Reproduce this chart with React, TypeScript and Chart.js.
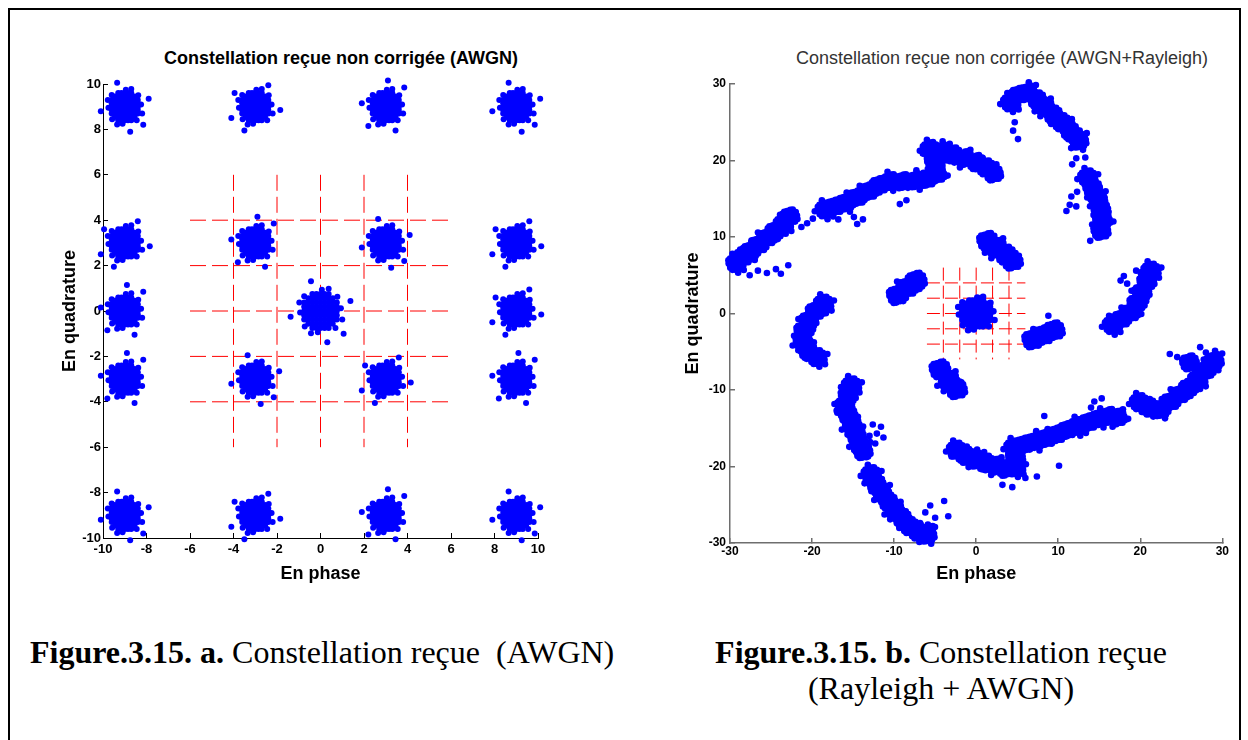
import React, { useEffect, useRef } from "react";
import { Chart, registerables } from "chart.js";

Chart.register(...registerables);

// ---------------- Figure a : AWGN ----------------
const awgnRange: [number, number] = [-10, 10];
const awgnStep = 2;
const awgnCenters: [number, number][] = [
  [-9, 9], [-3, 9], [3, 9], [9, 9],
  [-9, 3], [-3, 3], [3, 3], [9, 3],
  [-9, 0], [0, 0], [9, 0],
  [-9, -3], [-3, -3], [3, -3], [9, -3],
  [-9, -9], [-3, -9], [3, -9], [9, -9],
];
const awgnSpread: number[] = [
  1.0, 1.0, 1.0, 1.0,
  1.0, 1.0, 1.0, 1.0,
  1.0, 1.25, 1.0,
  1.0, 1.0, 1.0, 1.0,
  1.0, 1.0, 1.0, 1.0,
];

// red dashed decision grid (both figures)
const decisionLevels = [-4, -2, 0, 2, 4];
const decisionExtent: [number, number] = [-6, 6];

// ---------------- Figure b : AWGN + Rayleigh ----------------
const rayRange: [number, number] = [-30, 30];
const rayStep = 10;
const rayCenterBlob: [number, number] = [0, 0];
const rayCenterSpread = 2.8;
const innerN: [number, number][] = [[1.4, 9.5], [2.5, 8.6], [3.6, 7.7], [4.4, 6.9]];
const innerW: [number, number][] = [[-9.6, 2.4], [-8.4, 3.4], [-7.3, 4.3]];
const innerS: [number, number][] = [[-4.4, -7.3], [-3.3, -8.8], [-2.4, -9.9]];
const innerE: [number, number][] = [[6.9, -3.4], [8.2, -2.8], [9.5, -2.2]];
const innerSpread = 1.3;

const arcA: [number, number][] = [[-29.3, 6.6], [-28.4, 7.4], [-27.5, 8.2], [-26.5, 9.0], [-25.5, 9.9], [-24.5, 10.8], [-23.5, 11.7], [-22.7, 12.7]];
const arcB: [number, number][] = [[-18.4, 13.6], [-17.2, 14.0], [-15.9, 14.5], [-14.5, 15.2], [-13.1, 16.0], [-11.8, 16.8], [-10.4, 17.3], [-8.9, 17.3], [-7.4, 17.4], [-6.0, 17.6], [-4.8, 18.2]];
const arcC: [number, number][] = [[-5.6, 21.5], [-5.1, 19.9], [-4.2, 21.2], [-2.8, 20.8], [-1.4, 20.3], [0.0, 19.8], [1.2, 19.1], [2.1, 18.3]];
const arcD: [number, number][] = [[4.2, 27.6], [5.2, 28.6], [6.3, 28.9], [7.4, 28.0], [8.4, 27.0], [9.4, 26.0], [10.4, 25.0], [11.4, 23.9], [12.5, 22.6]];
const arcE: [number, number][] = [[13.6, 17.8], [14.2, 16.4], [14.8, 15.0], [15.2, 13.6], [15.4, 12.2], [15.2, 10.8]];
const arcF: [number, number][] = [[21.3, 5.6], [20.8, 4.2], [20.2, 2.8], [19.6, 1.4], [18.8, 0.1], [17.7, -0.7], [16.6, -1.5]];
const arcG: [number, number][] = [[19.9, -11.6], [21.2, -12.3], [22.5, -12.5], [23.7, -11.5], [24.8, -10.6], [25.9, -9.7], [27.0, -8.6], [28.0, -7.4], [29.0, -6.2], [26.0, -6.4]];
const arcH: [number, number][] = [[4.6, -17.5], [5.9, -17.1], [7.2, -16.7], [8.5, -16.3], [9.8, -15.8], [11.1, -15.2], [12.4, -14.7], [13.7, -14.2], [15.0, -13.7], [16.2, -13.4], [17.2, -13.6]];
const arcI: [number, number][] = [[-2.4, -17.8], [-1.2, -18.6], [0.0, -19.1], [1.2, -19.5], [2.4, -19.9], [3.6, -20.3], [4.8, -20.1], [4.8, -18.8]];
const arcJ: [number, number][] = [[-15.2, -9.4], [-15.6, -10.7], [-16.0, -12.0], [-15.6, -13.3], [-15.1, -14.6], [-14.6, -15.9], [-14.2, -17.2], [-13.8, -18.0]];
const arcK: [number, number][] = [[-12.8, -21.0], [-12.2, -22.2], [-11.5, -23.4], [-10.7, -24.6], [-9.9, -25.7], [-9.0, -26.8], [-8.1, -27.8], [-7.1, -28.5], [-6.0, -28.9]];
const arcL: [number, number][] = [[-18.6, 1.3], [-19.6, 0.3], [-20.4, -0.9], [-21.0, -2.2], [-21.1, -3.6], [-20.5, -4.9], [-19.4, -5.7]];
const arcSpread = 1.15;

const rayStray: [number, number][] = [
  [-27.6, 5.0], [-26.6, 5.6], [-25.5, 5.3], [-24.4, 5.8], [-23.8, 5.2], [-22.9, 6.3], [-21.3, 11.3], [-20.6, 11.8], [-19.9, 12.4],
  [-14.5, 11.7], [-13.8, 12.3], [-14.9, 12.6], [-9.3, 14.3], [-8.5, 14.8], [-16.8, 12.3], [-6.5, 20.9],
  [4.5, 23.9], [5.1, 22.8], [4.7, 25.0], [11.7, 19.5], [12.2, 20.3], [13.3, 20.4],
  [11.0, 13.4], [11.4, 14.2], [11.6, 15.3], [12.3, 15.9], [13.9, 9.5], [12.2, 14.0],
  [17.6, 4.3], [18.4, 3.9], [18.0, 4.9], [16.3, -0.4], [19.5, 5.6], [21.9, 4.9],
  [24.5, -5.7], [27.3, -4.4], [23.6, -5.3], [25.3, -6.2], [28.0, -5.1], [20.2, -10.9], [22.0, -13.4],
  [14.4, -11.5], [15.3, -11.1], [14.0, -12.3], [8.3, -13.4], [10.1, -19.9], [7.4, -21.3],
  [-2.4, -17.0], [-3.0, -18.7], [4.4, -22.7], [3.2, -22.4], [6.0, -21.5],
  [-12.1, -15.7], [-11.3, -16.2], [-12.6, -14.5], [-12.3, -17.0], [-11.6, -14.8], [-13.0, -16.0], [-13.4, -18.8], [-17.0, -12.7],
  [-5.6, -25.1], [-3.9, -24.5], [-3.4, -26.5], [-5.0, -26.7], [-6.2, -26.0], [-5.3, -27.8], [-13.6, -22.2],
  [8.8, -0.3], [6.0, -3.1],
];

// ---------------- noise-cloud shape (unit offsets, read from the blobs) ----------------
const blobCoreRows: [number, number[]][] = [
  [0.6, [-0.3, -0.15, 0, 0.15, 0.3]],
  [0.45, [-0.45, -0.3, -0.15, 0, 0.15, 0.3, 0.45]],
  [0.3, [-0.6, -0.45, -0.3, -0.15, 0, 0.15, 0.3, 0.45, 0.6]],
  [0.15, [-0.6, -0.45, -0.3, -0.15, 0, 0.15, 0.3, 0.45, 0.6]],
  [0, [-0.6, -0.45, -0.3, -0.15, 0, 0.15, 0.3, 0.45, 0.6]],
  [-0.15, [-0.6, -0.45, -0.3, -0.15, 0, 0.15, 0.3, 0.45, 0.6]],
  [-0.3, [-0.6, -0.45, -0.3, -0.15, 0, 0.15, 0.3, 0.45, 0.6]],
  [-0.45, [-0.45, -0.3, -0.15, 0, 0.15, 0.3, 0.45]],
  [-0.6, [-0.3, -0.15, 0, 0.15, 0.3]],
];
const blobEdge: [number, number][] = [
  [0.75, 0.1], [-0.75, -0.05], [0.05, 0.75], [-0.1, -0.75], [0.62, 0.5], [-0.6, 0.52],
  [0.55, -0.6], [-0.58, -0.55], [0.8, -0.3], [-0.78, 0.3], [0.3, 0.78], [-0.35, -0.78],
];
const blobStrays: [number, number][][] = [
  [[1.1, 0.35], [-1.1, -0.2], [0.25, -1.1], [-0.35, 1.05], [0.85, -0.8]],
  [[1.15, -0.15], [-0.95, 0.6], [0.6, 0.95], [-0.5, -1.05], [-1.1, -0.5]],
  [[0.85, 0.85], [-1.1, 0.15], [0.1, 1.15], [0.45, -1.05], [-0.8, -0.85]],
];

type P = { x: number; y: number };

function cloud(cx: number, cy: number, s: number, stray: number): P[] {
  const out: P[] = [];
  for (const [oy, xs] of blobCoreRows) for (const ox of xs) out.push({ x: cx + ox * s, y: cy + oy * s });
  for (const [ox, oy] of blobEdge) out.push({ x: cx + ox * s, y: cy + oy * s });
  if (stray >= 0) for (const [ox, oy] of blobStrays[stray % 3]) out.push({ x: cx + ox * s, y: cy + oy * s });
  return out;
}

function awgnPoints(): P[] {
  const pts: P[] = [];
  awgnCenters.forEach(([x, y], i) => pts.push(...cloud(x, y, awgnSpread[i], i % 3)));
  return pts;
}

function rayPoints(): P[] {
  const pts: P[] = [];
  pts.push(...cloud(rayCenterBlob[0], rayCenterBlob[1], rayCenterSpread, -1));
  [innerN, innerW, innerS, innerE].forEach((blob) =>
    blob.forEach(([x, y], i) => pts.push(...cloud(x, y, innerSpread, i === 1 ? i : -1)))
  );
  [arcA, arcB, arcC, arcD, arcE, arcF, arcG, arcH, arcI, arcJ, arcK, arcL].forEach((arc) =>
    arc.forEach(([x, y], i) => pts.push(...cloud(x, y, arcSpread, i % 2 === 0 ? i % 3 : -1)))
  );
  rayStray.forEach(([x, y]) => pts.push({ x, y }));
  return pts;
}

function decisionGrid(dash: number[]) {
  const sets: any[] = [];
  const [a, b] = decisionExtent;
  for (const v of decisionLevels) {
    sets.push({ data: [{ x: a, y: v }, { x: b, y: v }] });
    sets.push({ data: [{ x: v, y: b }, { x: v, y: a }] });
  }
  return sets.map((d) => ({
    ...d,
    showLine: true,
    borderColor: "#ff0000",
    borderWidth: 1,
    borderDash: dash,
    pointRadius: 0,
    fill: false,
    clip: false,
  }));
}

const SANS = "'Liberation Sans', Arial, Helvetica, sans-serif";
const SERIF = "'Liberation Serif', 'Times New Roman', Times, serif";

type PanelProps = {
  left: number; top: number; width: number; height: number;
  padTop: number; padRight: number; yWidth: number; xHeight: number;
  range: [number, number]; step: number; points: P[]; dash: number[];
  axisColor: string; axisWidth: number; tickPadX: number; tickPadY: number;
  tickSize: number; yTitlePad: number; radius: number;
};

function Panel(p: PanelProps) {
  const ref = useRef<HTMLCanvasElement | null>(null);
  useEffect(() => {
    if (!ref.current) return;
    const tickFont = { family: SANS, size: p.tickSize, weight: "bold" as const };
    const titleFont = { family: SANS, size: 18, weight: "bold" as const };
    const mkAxis = (horizontal: boolean) => ({
      type: "linear" as const,
      position: horizontal ? ("bottom" as const) : ("left" as const),
      min: p.range[0],
      max: p.range[1],
      ticks: {
        stepSize: p.step,
        autoSkip: false,
        maxRotation: 0,
        color: "#000",
        font: tickFont,
        padding: horizontal ? p.tickPadX : p.tickPadY,
      },
      grid: { drawOnChartArea: false, drawTicks: true, tickLength: -5, color: p.axisColor, lineWidth: p.axisWidth },
      border: { display: true, color: p.axisColor, width: p.axisWidth },
      title: {
        display: true,
        text: horizontal ? "En phase" : "En quadrature",
        color: "#000",
        font: titleFont,
        padding: horizontal ? { top: 0, bottom: 15 } : { top: p.yTitlePad, bottom: 0 },
      },
      afterFit: (s: any) => {
        if (horizontal) s.height = p.xHeight;
        else s.width = p.yWidth;
      },
    });
    const chart = new Chart(ref.current, {
      type: "scatter",
      data: {
        datasets: [
          {
            data: p.points,
            pointRadius: p.radius,
            pointStyle: "circle",
            pointBackgroundColor: "#0000ff",
            backgroundColor: "#0000ff",
            pointBorderWidth: 0,
            borderWidth: 0,
            showLine: false,
            clip: false,
          } as any,
          ...decisionGrid(p.dash),
        ],
      },
      options: {
        responsive: false,
        maintainAspectRatio: false,
        animation: false,
        devicePixelRatio: 1,
        events: [],
        layout: { padding: { top: p.padTop, right: p.padRight, left: 0, bottom: 0 } },
        plugins: { legend: { display: false }, tooltip: { enabled: false }, title: { display: false } },
        scales: { x: mkAxis(true), y: mkAxis(false) } as any,
      },
    });
    return () => chart.destroy();
  }, []);
  return (
    <canvas
      ref={ref}
      width={p.width}
      height={p.height}
      style={{ position: "absolute", left: p.left, top: p.top, width: p.width, height: p.height }}
    />
  );
}

export default function App() {
  const aPts = awgnPoints();
  const bPts = rayPoints();
  return (
    <div style={{ position: "absolute", left: 0, top: 0, width: 1248, height: 740, overflow: "hidden", background: "#fff" }}>
      <div
        style={{
          position: "absolute", left: 8, top: 8, width: 1233, height: 760,
          border: "2px solid #000", boxSizing: "border-box",
        }}
      />
      <div
        style={{
          position: "absolute", left: 41, top: 47, width: 600, textAlign: "center",
          fontFamily: SANS, fontWeight: "bold", fontSize: 18, lineHeight: "22px", color: "#000", whiteSpace: "nowrap",
        }}
      >
        Constellation reçue non corrigée (AWGN)
      </div>
      <div
        style={{
          position: "absolute", left: 702, top: 47, width: 600, textAlign: "center",
          fontFamily: SANS, fontSize: 18, lineHeight: "22px", color: "#333", whiteSpace: "nowrap",
        }}
      >
        Constellation reçue non corrigée (AWGN+Rayleigh)
      </div>
      <Panel
        left={40} top={60} width={520} height={540}
        padTop={24} padRight={22} yWidth={63} xHeight={62}
        range={awgnRange} step={awgnStep} points={aPts} dash={[16, 6]}
        axisColor="#000" axisWidth={1} tickPadX={9} tickPadY={7} tickSize={13} yTitlePad={19} radius={3}
      />
      <Panel
        left={660} top={60} width={575} height={540}
        padTop={24} padRight={12} yWidth={70} xHeight={57}
        range={rayRange} step={rayStep} points={bPts} dash={[13, 5]}
        axisColor="#6e6e6e" axisWidth={1.5} tickPadX={6} tickPadY={9} tickSize={12} yTitlePad={22} radius={3.3}
      />
      <div
        style={{
          position: "absolute", left: 30, top: 634, fontFamily: SERIF, fontSize: 32,
          lineHeight: "36px", color: "#000", whiteSpace: "pre",
        }}
      >
        <b>Figure.3.15. a.</b>{" Constellation reçue  (AWGN)"}
      </div>
      <div
        style={{
          position: "absolute", left: 641, top: 634, width: 600, textAlign: "center", fontFamily: SERIF,
          fontSize: 32, lineHeight: "36px", color: "#000", whiteSpace: "pre",
        }}
      >
        <b>Figure.3.15. b.</b>{" Constellation reçue"}
        <br />
        {"(Rayleigh + AWGN)"}
      </div>
    </div>
  );
}
